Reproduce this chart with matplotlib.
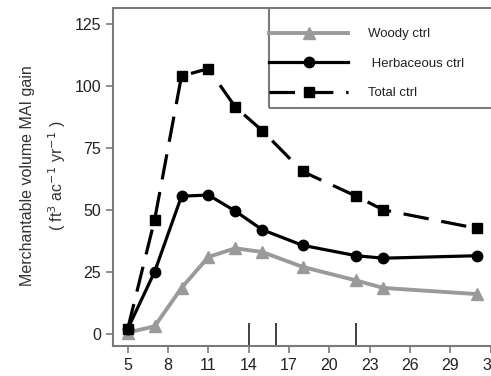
import matplotlib
matplotlib.use("Agg")
import matplotlib.pyplot as plt
from matplotlib.patches import Rectangle

plt.rcParams['font.family'] = ['Liberation Sans', 'DejaVu Sans']

# stand age (years)
age = [5, 7, 9, 11, 13, 15, 18, 22, 24, 31]
woody = [0.5, 3, 18.5, 31, 34.5, 33, 27, 21.5, 18.5, 16]
herb = [2, 25, 55.5, 56, 49.5, 42, 35.7, 31.5, 30.5, 31.5]
total = [2, 46, 104, 107, 91.5, 82, 65.5, 55.5, 50, 42.5]
marks = [14, 16, 22]
xticks = [5, 8, 11, 14, 17, 20, 23, 26, 29, 32]
yticks = [0, 25, 50, 75, 100, 125]

grey = '#9a9a9a'
axcol = '#7a7a7a'

fig = plt.figure(figsize=(4.91, 3.76), dpi=100)
ax = fig.add_axes([0.230, 0.080, 0.775, 0.899])

ax.plot(age, woody, color=grey, lw=2.8, marker='^', ms=8.5, label='Woody ctrl')
ax.plot(age, herb, color='black', lw=2.3, marker='o', ms=7.5, label=' Herbaceous ctrl')
ax.plot(age, total, color='black', lw=2.3, marker='s', ms=7.5,
        dashes=(8, 4), label='Total ctrl')

ax.vlines(marks, -5, 4.4, color='#333333', lw=1.3)

ax.set_xlim(3.9, 32.2)
ax.set_ylim(-4.9, 131.5)
ax.set_xticks(xticks)
ax.set_yticks(yticks)
ax.tick_params(colors=axcol, labelcolor='#222222', labelsize=11.5, width=1.2, length=5)

for s in ax.spines.values():
    s.set_color(axcol)
    s.set_linewidth(1.5)

fig.text(0.055, 0.533, 'Merchantable volume MAI gain', rotation=90,
         ha='center', va='center', fontsize=11.5, color='#333333')
fig.text(0.116, 0.533, r'( ft$^3$ ac$^{-1}$ yr$^{-1}$ )', rotation=90,
         ha='center', va='center', fontsize=11.5, color='#333333')

# legend box, runs off the right edge like the original
box = Rectangle((0.41, 0.704), 0.7, 0.4, transform=ax.transAxes, fill=False,
                edgecolor=axcol, lw=1.5, clip_on=True)
ax.add_patch(box)

leg = ax.legend(loc='upper left', bbox_to_anchor=(0.41, 0.94),
                fontsize=9.5, handlelength=6.0, handletextpad=1.5,
                labelspacing=1.3, borderpad=0.0, borderaxespad=0.0,
                frameon=False)
for t in leg.get_texts():
    t.set_color('#222222')

fig.savefig('out.png', dpi=100)
